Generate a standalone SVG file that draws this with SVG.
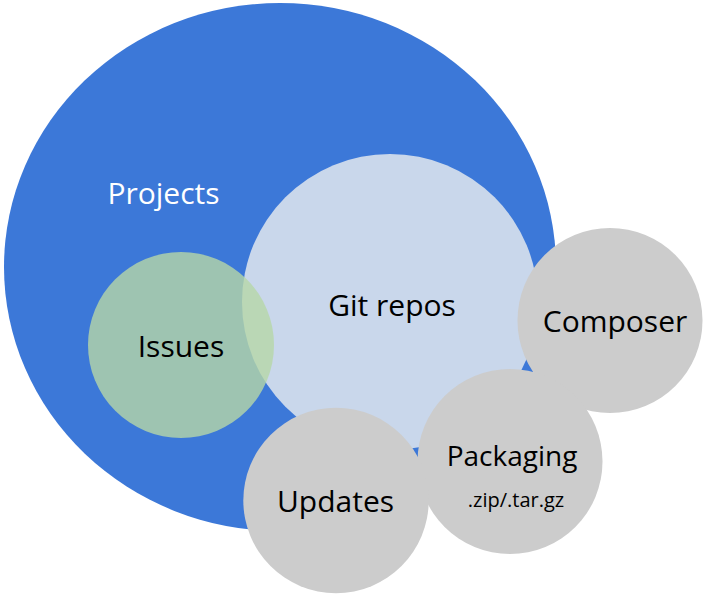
<svg xmlns="http://www.w3.org/2000/svg" width="704" height="599" viewBox="0 0 704 599">
<style>
text{font-family:"Open Sans","Noto Sans","DejaVu Sans",sans-serif;fill:#000;text-anchor:middle}
.gray{fill:#cccccc}
</style>
<rect width="704" height="599" fill="#ffffff"/>
<g id="projects">
<ellipse cx="280" cy="267" rx="276" ry="264" fill="#3c78d8"/>
<text x="163.5" y="204.3" font-size="30" style="fill:#ffffff">Projects</text>
</g>
<g id="git-repos">
<circle cx="390" cy="302" r="148" fill="#c9d7eb"/>
<text x="392" y="316" font-size="30">Git repos</text>
</g>
<g id="issues">
<circle cx="181" cy="345" r="93" fill="#b6d7a8" fill-opacity="0.8"/>
<text x="181" y="357" font-size="30">Issues</text>
</g>
<g id="composer">
<circle cx="610" cy="320.5" r="92.5" class="gray"/>
<text x="615" y="332" font-size="30">Composer</text>
</g>
<g id="packaging">
<circle cx="510" cy="461.5" r="92.5" class="gray"/>
<text x="512" y="465.5" font-size="28">Packaging</text>
<text x="516" y="506.7" font-size="20">.zip/.tar.gz</text>
</g>
<g id="updates">
<circle cx="336" cy="500.5" r="92.7" class="gray"/>
<text x="335.5" y="512" font-size="30">Updates</text>
</g>
<g id="connectors"></g>
</svg>
